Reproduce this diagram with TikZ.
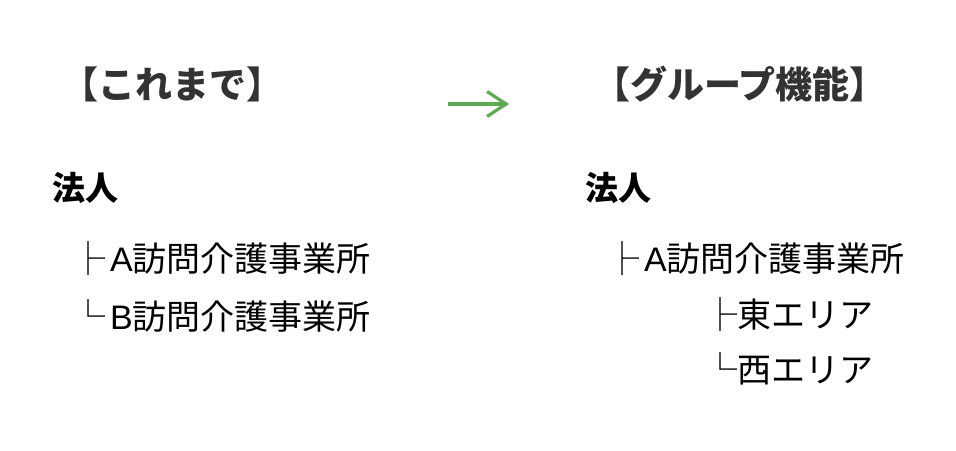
\documentclass[tikz,border=0pt]{standalone}
\usepackage{fontspec}
\setmainfont{Noto Sans CJK JP}
\newfontfamily\latinfont{Liberation Sans}
\usetikzlibrary{arrows.meta}
\definecolor{headgray}{RGB}{51,51,51}
\definecolor{arrowgreen}{RGB}{92,170,84}
\newcommand{\branchgap}{\hspace{5pt}}
\tikzset{
  heading/.style={anchor=west, inner sep=0pt, text=headgray, font=\fontsize{37}{40}\selectfont\bfseries},
  root/.style={anchor=west, inner sep=0pt, text=black, font=\fontsize{33}{38}\selectfont\bfseries},
  item/.style={anchor=west, inner sep=0pt, text=black, font=\fontsize{34}{40}\selectfont},
  flow/.style={draw=arrowgreen, line width=3.2pt, -{Straight Barb[length=19pt, width=25pt, line width=3.2pt]}}
}
\begin{document}
\begin{tikzpicture}[x=1pt, y=-1pt]
  \useasboundingbox[fill=white] (0,0) rectangle (956,450);
  % left column
  \node[heading] (hL) at (61,84) {【これまで】};
  \node[root] (rL) at (52,188) {法人};
  \node[item] (aL) at (71,259) {├\branchgap{\latinfont A}訪問介護事業所};
  \node[item] (bL) at (71,316) {└\branchgap{\latinfont B}訪問介護事業所};
  % arrow
  \coordinate (arrS) at (448,104);
  \coordinate (arrE) at (509,104);
  \draw[flow] (arrS) -- (arrE);
  % right column
  \node[heading] (hR) at (593,84) {【グループ機能】};
  \node[root] (rR) at (585,188) {法人};
  \node[item] (aR) at (605,259) {├\branchgap{\latinfont A}訪問介護事業所};
  \node[item] (eR) at (703,315) {├東エリア};
  \node[item] (wR) at (703,369) {└西エリア};
\end{tikzpicture}
\end{document}
